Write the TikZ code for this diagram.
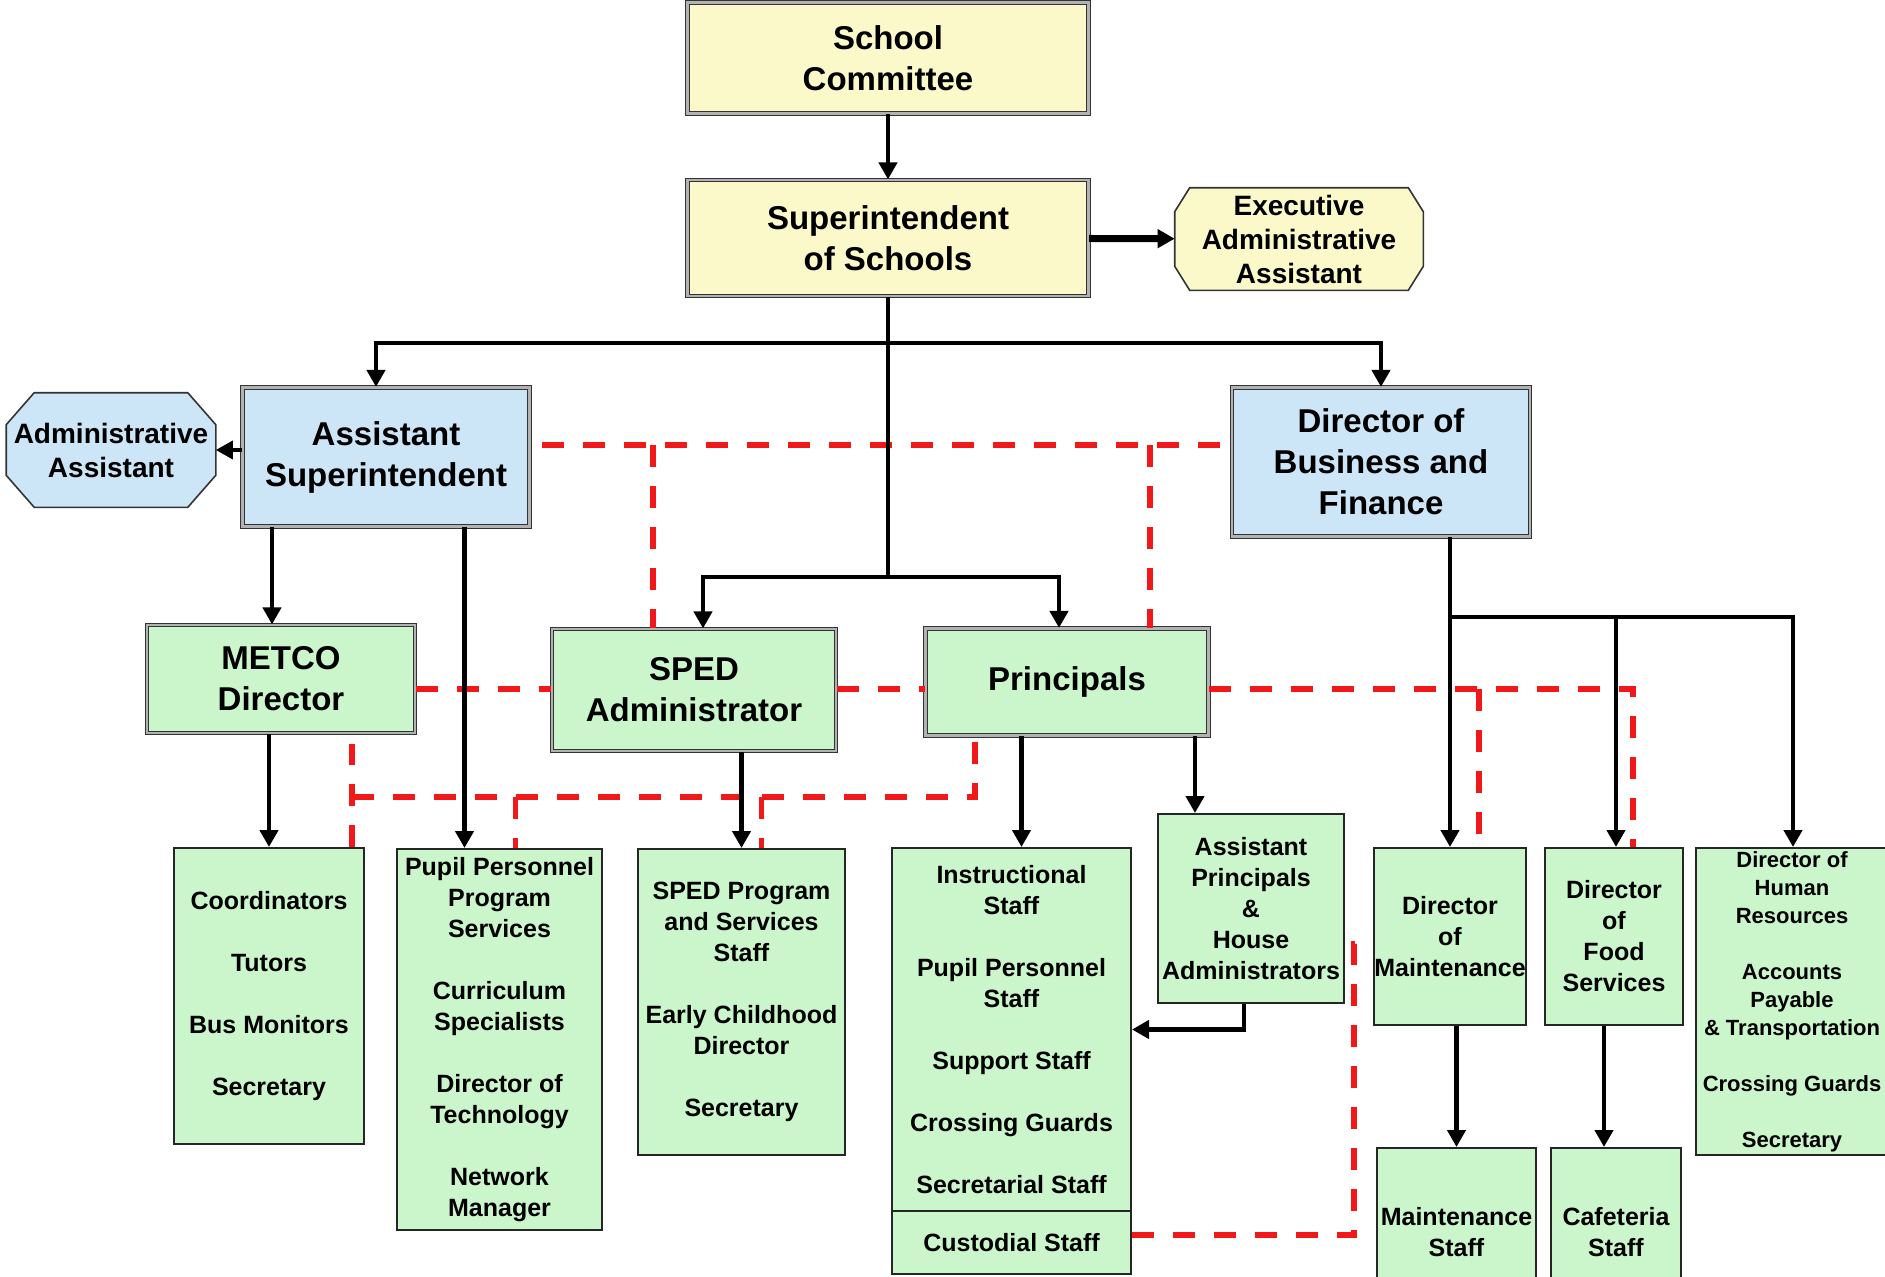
\documentclass[tikz,border=0pt]{standalone}
\usepackage{fontspec}
\setmainfont{Liberation Sans}
\usetikzlibrary{arrows.meta,backgrounds,positioning}

\definecolor{chartyellow}{HTML}{FBF9C9}
\definecolor{chartblue}{HTML}{CCE5F7}
\definecolor{chartgreen}{HTML}{CBF6CB}
\definecolor{liaisonred}{HTML}{F01818}

\begin{document}
\begin{tikzpicture}[x=1pt,y=-1pt,>={Triangle[length=17pt,width=18pt]},
                    semithick,
    headbox/.style={draw=black!80,line width=1.2pt,double=black!30,double distance=2.4pt,
                    align=center,inner sep=0pt,font=\fontsize{33}{41}\selectfont\bfseries},
    staffbox/.style={draw=black!85,line width=2pt,fill=chartgreen,align=center,inner sep=0pt,
                     font=\fontsize{25}{31}\selectfont\bfseries},
    octbox/.style={align=center,inner sep=0pt,font=\fontsize{28}{34}\selectfont\bfseries},
    octline/.style={draw=black!80,line width=1.6pt},
    link/.style={->,line width=4.5pt},
    bus/.style={line width=4.5pt},
    liaison/.style={draw=liaisonred,line width=5.5pt,dash pattern=on 22pt off 19pt}]
  \useasboundingbox (0,0) rectangle (1885,1277);
  \clip (0,0) rectangle (1885,1277);

  % upper levels
  \node[headbox,fill=chartyellow,minimum width=401pt,minimum height=111pt] (sc)  at (888,58)  {School\\Committee};
  \node[headbox,fill=chartyellow,minimum width=401pt,minimum height=116pt] (sup) at (888,238) {Superintendent\\of Schools};
  \node[octbox,minimum width=248pt,minimum height=102pt]                  (eaa) at (1299,239) {Executive\\Administrative\\Assistant};
  \node[headbox,fill=chartblue,minimum width=287pt,minimum height=139pt]   (as)  at (386,457) {Assistant\\Superintendent};
  \node[octbox,minimum width=209pt,minimum height=114pt]                  (aa)  at (111,450) {Administrative\\Assistant};
  \node[headbox,fill=chartblue,minimum width=298pt,minimum height=149pt]   (dbf) at (1381,462) {Director of\\Business and\\Finance};
  \node[headbox,fill=chartgreen,minimum width=268pt,minimum height=108pt]  (metco) at (281,679) {METCO\\Director};
  \node[headbox,fill=chartgreen,minimum width=284pt,minimum height=122pt]  (sped)  at (694,690) {SPED\\Administrator};
  \node[headbox,fill=chartgreen,minimum width=283pt,minimum height=107pt]  (prin)  at (1067,682) {Principals};

  % staff level
  \node[staffbox,minimum width=190pt,minimum height=296pt] (coord) at (269,996)
       {Coordinators\\[31pt]Tutors\\[31pt]Bus Monitors\\[31pt]Secretary};
  \node[staffbox,minimum width=205pt,minimum height=381pt] (pp) at (499.5,1039.5)
       {Pupil Personnel\\Program\\Services\\[31pt]Curriculum\\Specialists\\[31pt]Director of\\Technology\\[31pt]Network\\Manager};
  \node[staffbox,minimum width=207pt,minimum height=306pt] (sp) at (741.5,1002)
       {SPED Program\\and Services\\Staff\\[31pt]Early Childhood\\Director\\[31pt]Secretary};
  \node[staffbox,minimum width=239pt,minimum height=363pt] (instr) at (1011.5,1029.5)
       {Instructional\\Staff\\[31pt]Pupil Personnel\\Staff\\[31pt]Support Staff\\[31pt]Crossing Guards\\[31pt]Secretarial Staff};
  \node[staffbox,minimum width=239pt,minimum height=63pt] (cust) [below=-2pt of instr] {Custodial Staff};
  \node[staffbox,minimum width=186pt,minimum height=189pt] (ap) at (1251,908.5)
       {Assistant\\Principals\\\&\\House\\Administrators};
  \node[staffbox,minimum width=152pt,minimum height=177pt] (maint) at (1450,936.5) {Director\\of\\Maintenance};
  \node[staffbox,minimum width=138pt,minimum height=177pt] (food)  at (1614,936.5) {Director\\of\\Food\\Services};
  \node[staffbox,minimum width=192pt,minimum height=307pt,font=\fontsize{22}{28}\selectfont\bfseries] (hr) at (1792,1001.5)
       {Director of\\Human\\Resources\\[28pt]Accounts\\Payable\\\& Transportation\\[28pt]Crossing Guards\\[28pt]Secretary};
  \node[staffbox,minimum width=159pt,minimum height=168pt] (ms)  at (1456.5,1232) {Maintenance\\Staff};
  \node[staffbox,minimum width=130pt,minimum height=168pt] (caf) at (1616,1232)   {Cafeteria\\Staff};

  % octagons behind their texts
  \begin{scope}[on background layer]
    \filldraw[octline,fill=chartyellow] ([xshift=15pt]eaa.north west) -- ([xshift=-15pt]eaa.north east)
      -- ([yshift=-24pt]eaa.north east) -- ([yshift=24pt]eaa.south east) -- ([xshift=-15pt]eaa.south east)
      -- ([xshift=15pt]eaa.south west) -- ([yshift=24pt]eaa.south west) -- ([yshift=-24pt]eaa.north west) -- cycle;
    \filldraw[octline,fill=chartblue] ([xshift=28pt]aa.north west) -- ([xshift=-28pt]aa.north east)
      -- ([yshift=-32pt]aa.north east) -- ([yshift=32pt]aa.south east) -- ([xshift=-28pt]aa.south east)
      -- ([xshift=28pt]aa.south west) -- ([yshift=32pt]aa.south west) -- ([yshift=-32pt]aa.north west) -- cycle;
  \end{scope}

  \coordinate (bus1) at (888,343);
  \coordinate (bus2) at (888,577);
  \coordinate (bus3) at (1450,617);
  \coordinate (r1) at (0,445);
  \coordinate (r2) at (0,689);
  \coordinate (r3) at (0,797);
  \coordinate (r4) at (0,1235);
  \coordinate (r5) at (0,944);

  % dashed liaison lines
  \draw[liaison] ([xshift=12pt]as.east |- r1) -- (dbf.west |- r1);
  \draw[liaison] ([xshift=-41pt]sped.north |- r1) -- ([xshift=-41pt]sped.north);
  \draw[liaison] ([xshift=83pt]prin.north |- r1) -- ([xshift=83pt]prin.north);
  \draw[liaison] (metco.east |- r2) -- (sped.west |- r2);
  \draw[liaison] (sped.east |- r2) -- (prin.west |- r2);
  \draw[liaison] (prin.east |- r2) -| ([xshift=19pt]food.north);
  \draw[liaison] ([xshift=29pt]maint.north |- r2) -- ([xshift=29pt]maint.north);
  \draw[liaison] ([xshift=83pt]coord.north) -- ([xshift=83pt,yshift=-10pt]coord.north |- metco.south);
  \draw[liaison] ([xshift=83pt]coord.north |- r3) -- ([xshift=-92pt]prin.south |- r3) -- ([xshift=-92pt]prin.south);
  \draw[liaison] ([xshift=16pt]pp.north |- r3) -- ([xshift=16pt]pp.north);
  \draw[liaison] ([xshift=20pt]sp.north |- r3) -- ([xshift=20pt]sp.north);
  \draw[liaison] (cust.east |- r4) -| ([xshift=-19pt]maint.west |- r5) -- (maint.west |- r5);

  % reporting lines
  \draw[link] (sc) -- (sup);
  \draw[link,line width=7pt] (sup) -- (eaa);
  \draw[bus] (sup) -- (bus2);
  \draw[link] (bus1) -| ([xshift=-10pt]as.north);
  \draw[link] (bus1) -| (dbf.north);
  \draw[link] (bus2) -| ([xshift=9pt]sped.north);
  \draw[link] (bus2) -| ([xshift=-8pt]prin.north);
  \draw[link,line width=3.5pt] (aa.east -| as.west) -- (aa.east);
  \draw[link] ([xshift=-9pt]metco.north |- as.south) -- ([xshift=-9pt]metco.north);
  \draw[link] ([xshift=-35pt]pp.north |- as.south) -- ([xshift=-35pt]pp.north);
  \draw[link] (coord.north |- metco.south) -- (coord.north);
  \draw[link] (sp.north |- sped.south) -- (sp.north);
  \draw[link] ([xshift=10pt]instr.north |- prin.south) -- ([xshift=10pt]instr.north);
  \draw[link] ([xshift=-56pt]ap.north |- prin.south) -- ([xshift=-56pt]ap.north);
  \draw[link] ([xshift=-7pt]ap.south) |- (instr.east);
  \draw[link] (maint.north |- dbf.south) -- (maint.north);
  \draw[link] (bus3) -| ([xshift=2pt]food.north);
  \draw[link] (bus3) -| ([xshift=1pt]hr.north);
  \draw[link] (ms.north |- maint.south) -- (ms.north);
  \draw[link] ([xshift=-12pt]caf.north |- food.south) -- ([xshift=-12pt]caf.north);
\end{tikzpicture}
\end{document}
